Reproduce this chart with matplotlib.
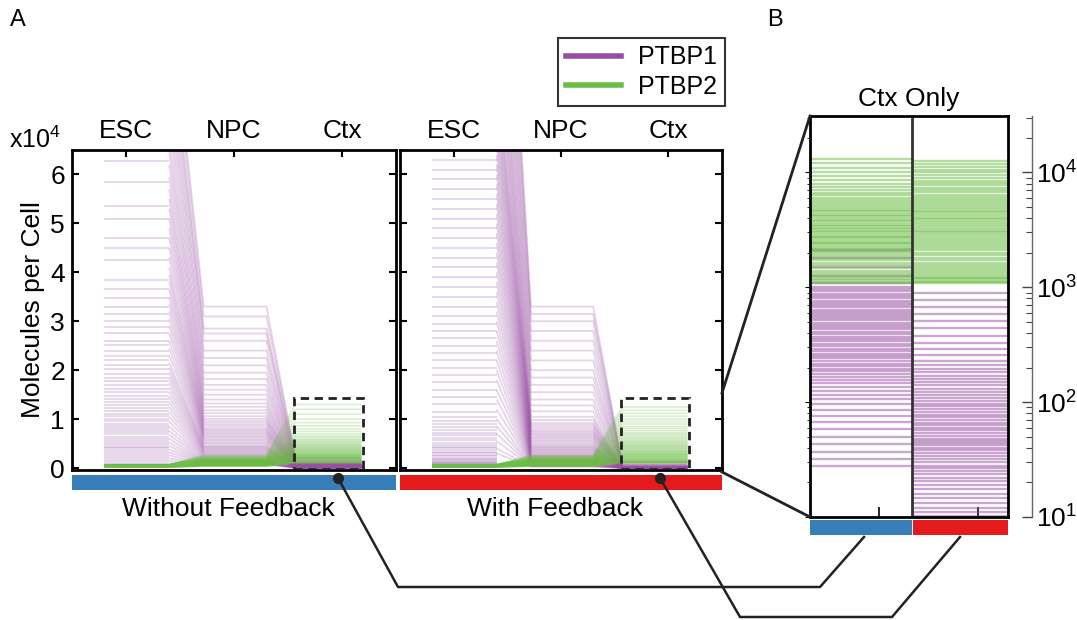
import matplotlib
matplotlib.use('Agg')
import matplotlib.pyplot as plt
from matplotlib.collections import LineCollection
from matplotlib.patches import Rectangle
from matplotlib.lines import Line2D

plt.rcParams['font.family'] = ['Liberation Sans', 'DejaVu Sans']
plt.rcParams['mathtext.fontset'] = 'custom'
plt.rcParams['mathtext.rm'] = 'Liberation Sans'
plt.rcParams['mathtext.it'] = 'Liberation Sans'

# ---- data (molecules per cell, one entry per simulated cell) ----
stages = ['ESC', 'NPC', 'Ctx']

# without feedback
wo_p1_esc = [62800, 58500, 53500, 51000, 47000, 45000, 42500, 38500, 36500, 34800,
             33000, 31500, 30000, 28800, 27500, 26000, 25200, 24000, 23000, 22100,
             21000, 20200, 19300, 18500, 17800, 17000, 16200, 15500, 14800, 14100,
             13500, 12900, 12300, 11700, 11100, 10600, 10100, 9600, 9100, 8600,
             8200, 7700, 7300, 6900, 6400, 6000, 5600, 5200, 4800, 4400,
             4000, 3600, 3200, 2800, 2400, 2000, 1600, 1200, 900, 600]
wo_p1_peak = [98000, 95000, 91000, 88000, 85000, 82000, 79000, 76000, 73000, 70000,
              67000, 64500, 62000, 59500, 57000, 55000, 53000, 51000, 49000, 47000,
              45000, 43000, 41000, 39500, 38000, 36500, 35000, 33500, 32000, 30500,
              29000, 27500, 26000, 24500, 23000, 21500, 20500, 19500, 18500, 17500,
              16500, 15500, 14500, 13500, 12500, 11500, 10500, 9500, 8500, 7600,
              6800, 6000, 5200, 4500, 3800, 3200, 2600, 2000, 1500, 1000]
wo_p1_npc = [33000, 31000, 28500, 27500, 26000, 24000, 22500, 21000, 19500, 18200,
             17000, 16000, 15000, 14000, 13200, 12500, 11800, 11200, 10600, 10100,
             9700, 9300, 8900, 8500, 8100, 7800, 7500, 7200, 6900, 6600,
             6300, 6000, 5700, 5400, 5100, 4800, 4500, 4300, 4100, 3900,
             3700, 3500, 3300, 3100, 2900, 2700, 2500, 2300, 2100, 1900,
             1700, 1500, 1400, 1300, 1200, 1100, 1000, 900, 800, 700]
wo_p1_ctx = [2100, 1800, 1500, 1250, 1100, 1000, 960, 920, 880, 840,
             800, 765, 730, 700, 670, 640, 615, 590, 565, 540,
             515, 490, 470, 450, 430, 410, 390, 372, 355, 338,
             322, 306, 292, 278, 265, 252, 240, 228, 217, 206,
             196, 186, 176, 166, 156, 146, 136, 126, 116, 106,
             96, 86, 76, 67, 58, 50, 43, 37, 32, 28]
wo_p2_ctx = [13000, 12000, 11000, 10000, 9300, 8600, 8000, 7500, 7000, 6600,
             6300, 6000, 5750, 5500, 5300, 5100, 4900, 4750, 4600, 4450,
             4300, 4150, 4000, 3880, 3760, 3640, 3520, 3400, 3300, 3200,
             3100, 3000, 2900, 2820, 2740, 2660, 2580, 2500, 2430, 2360,
             2290, 2220, 2150, 2080, 2010, 1940, 1870, 1800, 1720, 1640,
             1560, 1480, 1400, 1330, 1270, 1220, 1180, 1150, 1120, 1100]

# with feedback
wf_p1_esc = [63000, 61000, 59000, 57000, 55000, 53000, 51000, 49000, 47000, 45000,
             43000, 41000, 39000, 37000, 35000, 33000, 31000, 29500, 28000, 26500,
             25000, 23500, 22000, 20500, 19000, 17500, 16000, 14500, 13000, 11500,
             10500, 9700, 9000, 8400, 7800, 7200, 6700, 6200, 5700, 5200,
             4800, 4400, 4000, 3600, 3300, 3000, 2700, 2400, 2100, 1900,
             1700, 1500, 1300, 1100, 950, 800, 650, 500, 400, 300]
wf_p1_peak = [150000, 145000, 140000, 135000, 130000, 126000, 122000, 118000, 114000, 110000,
              106000, 103000, 100000, 97000, 94000, 91000, 88000, 85000, 82000, 80000,
              78000, 76000, 74000, 72000, 70000, 68000, 66000, 64000, 62000, 60000,
              58000, 56000, 54000, 52000, 50000, 48000, 46000, 44000, 42000, 40000,
              38000, 36000, 34000, 32000, 30000, 28000, 26000, 24000, 22000, 20000,
              18000, 16000, 14000, 12000, 10000, 8500, 7000, 5500, 4000, 3000]
wf_p1_npc = [33000, 31500, 30000, 28000, 26000, 24000, 22000, 20000, 18500, 17000,
             15500, 14000, 12800, 11600, 10500, 9800, 9200, 8800, 8400, 8000,
             7600, 7300, 7000, 6700, 6400, 6100, 5800, 5500, 5200, 4900,
             4600, 4400, 4200, 4000, 3800, 3600, 3400, 3200, 3000, 2800,
             2600, 2450, 2300, 2150, 2000, 1850, 1700, 1550, 1400, 1250,
             1100, 1000, 900, 800, 700, 600, 500, 420, 350, 280]
wf_p1_ctx = [900, 780, 680, 590, 510, 440, 380, 330, 290, 255,
             230, 212, 196, 182, 170, 159, 149, 140, 131, 123,
             116, 109, 103, 97, 92, 87, 82, 78, 74, 70,
             66, 63, 60, 57, 54, 51, 48, 46, 44, 42,
             40, 38, 36, 34, 32, 30, 28, 26.5, 25, 23.5,
             22, 20.5, 19, 17.5, 16, 14.5, 13.2, 12, 11, 10.3]
wf_p2_ctx = [12500, 11800, 11200, 10600, 10000, 9500, 9000, 8500, 8100, 7700,
             7300, 7000, 6700, 6400, 6100, 5850, 5600, 5400, 5200, 5000,
             4800, 4650, 4500, 4350, 4200, 4050, 3900, 3750, 3600, 3480,
             3360, 3240, 3120, 3000, 2900, 2800, 2700, 2600, 2500, 2400,
             2300, 2200, 2100, 2000, 1900, 1800, 1720, 1640, 1560, 1500,
             1440, 1380, 1330, 1280, 1240, 1200, 1170, 1140, 1110, 1080]

# PTBP2 before the Ctx stage (same in both models)
p2_esc = [700, 690, 680, 670, 660, 650, 640, 630, 620, 610,
          600, 590, 580, 570, 560, 550, 540, 530, 520, 510,
          500, 495, 490, 485, 480, 475, 470, 465, 460, 455,
          450, 445, 440, 435, 430, 425, 420, 415, 410, 405,
          400, 390, 380, 370, 360, 350, 340, 330, 320, 310,
          300, 290, 280, 270, 260, 250, 240, 230, 220, 210]
p2_npc = [2600, 2450, 2300, 2200, 2100, 2000, 1950, 1900, 1850, 1800,
          1750, 1700, 1660, 1620, 1580, 1540, 1500, 1470, 1440, 1410,
          1380, 1350, 1320, 1290, 1260, 1230, 1200, 1175, 1150, 1125,
          1100, 1075, 1050, 1025, 1000, 975, 950, 925, 900, 875,
          850, 825, 800, 775, 750, 725, 700, 675, 650, 625,
          600, 575, 550, 525, 500, 475, 450, 425, 400, 375]

PURPLE = '#984EA3'
GREEN = '#6CBD45'
BLUE = '#377EB8'
RED = '#E41A1C'
LINE = '#222222'
FS = 19

W, H = 1077, 620
fig = plt.figure(figsize=(W / 100, H / 100), dpi=100)


def box(x0, y0, x1, y1):
    return [x0 / W, 1 - y1 / H, (x1 - x0) / W, (y1 - y0) / H]


def fx(x):
    return x / W


def fy(y):
    return 1 - y / H


def cell_segments(esc, npc, ctx, peak=None):
    segs = []
    for i in range(len(esc)):
        if peak is None:
            segs.append([(0.8, esc[i]), (1.4, esc[i]), (1.72, npc[i]),
                         (2.3, npc[i]), (2.57, ctx[i]), (3.18, ctx[i])])
        else:
            segs.append([(0.8, esc[i]), (1.4, esc[i])])
            segs.append([(1.4, peak[i]), (1.72, npc[i]), (2.3, npc[i]),
                         (2.57, ctx[i]), (3.18, ctx[i])])
    return segs


def stage_panel(ax, p1_esc, p1_peak, p1_npc, p1_ctx, p2_ctx, labels):
    ax.add_collection(LineCollection(cell_segments(p1_esc, p1_npc, p1_ctx, p1_peak),
                                     colors=PURPLE, alpha=0.24, linewidths=1.3))
    ax.add_collection(LineCollection(cell_segments(p2_esc, p2_npc, p2_ctx),
                                     colors=GREEN, alpha=0.25, linewidths=1.2))
    ax.add_patch(Rectangle((2.56, -150), 0.63, 14450, fill=False, ec=LINE,
                           ls=(0, (3, 2)), lw=2, zorder=5))
    ax.set_xlim(0.5, 3.5)
    ax.set_ylim(-400, 65000)
    ax.xaxis.tick_top()
    ax.set_xticks([1, 2, 3])
    ax.set_xticklabels(stages)
    ax.set_yticks([0, 10000, 20000, 30000, 40000, 50000, 60000])
    ax.set_yticklabels(['0', '1', '2', '3', '4', '5', '6'])
    ax.tick_params(axis='x', direction='in', length=5, width=1.5, labelsize=FS, pad=5)
    ax.tick_params(axis='y', direction='in', length=5, width=1.5, labelsize=FS,
                   left=True, right=True, labelleft=labels, pad=5)
    for s in ax.spines.values():
        s.set_linewidth(2)


ax1 = fig.add_axes(box(72, 150, 396, 470))
ax2 = fig.add_axes(box(400, 150, 722, 470))
stage_panel(ax1, wo_p1_esc, wo_p1_peak, wo_p1_npc, wo_p1_ctx, wo_p2_ctx, True)
stage_panel(ax2, wf_p1_esc, wf_p1_peak, wf_p1_npc, wf_p1_ctx, wf_p2_ctx, False)
ax1.set_ylabel('Molecules per Cell', fontsize=FS, labelpad=4)

# ---- panel B: Ctx only, log scale ----
axB = fig.add_axes(box(810, 116, 1008, 517))
axB.set_yscale('log')
axB.set_ylim(10, 31000)
axB.set_xlim(0.3, 2.3)
axB.hlines(wo_p1_ctx, 0.3, 1.33, colors=PURPLE, alpha=0.5, lw=1.7)
axB.hlines(wo_p2_ctx, 0.3, 1.33, colors=GREEN, alpha=0.5, lw=1.7)
axB.hlines(wf_p1_ctx, 1.33, 2.3, colors=PURPLE, alpha=0.5, lw=1.7)
axB.hlines(wf_p2_ctx, 1.33, 2.3, colors=GREEN, alpha=0.5, lw=1.7)
axB.axvline(1.33, color='#333333', lw=2)
axB.set_xticks([1, 2])
axB.set_xticklabels([])
axB.tick_params(axis='x', direction='in', length=7, width=1.2)
axB.tick_params(axis='y', which='both', left=False, labelleft=False)
for s in axB.spines.values():
    s.set_linewidth(2)
axB.set_title('Ctx Only', fontsize=FS, pad=7)

axL = axB.twinx()
axL.set_yscale('log')
axL.set_ylim(10, 31000)
for side in ['left', 'top', 'bottom']:
    axL.spines[side].set_visible(False)
axL.spines['right'].set_position(('outward', 17))
axL.spines['right'].set_color('#666666')
axL.spines['right'].set_linewidth(1)
axL.tick_params(axis='y', which='major', direction='in', length=7, width=1,
                color='#444444', labelsize=FS, pad=3)
axL.tick_params(axis='y', which='minor', direction='in', length=4, width=0.8,
                color='#444444')

# ---- colour bars and labels ----
for (x0, y0, x1, y1), c in [((72, 475, 396, 490), BLUE), ((400, 475, 722, 490), RED),
                            ((810, 520, 912, 535), BLUE), ((913, 520, 1008, 535), RED)]:
    fig.add_artist(Rectangle((fx(x0), fy(y1)), (x1 - x0) / W, (y1 - y0) / H,
                             transform=fig.transFigure, color=c, lw=0))

fig.text(fx(228), fy(509), 'Without Feedback', ha='center', va='center', fontsize=FS)
fig.text(fx(555), fy(509), 'With Feedback', ha='center', va='center', fontsize=FS)
fig.text(fx(9), fy(140), r'x10$^4$', ha='left', va='center', fontsize=18)
fig.text(fx(18), fy(20), 'A', ha='center', va='center', fontsize=17)
fig.text(fx(775), fy(20), 'B', ha='center', va='center', fontsize=17)

# ---- connector lines ----
def fig_line(xs, ys, **kw):
    fig.add_artist(Line2D([fx(x) for x in xs], [fy(y) for y in ys],
                          transform=fig.transFigure, color=LINE, **kw))

fig_line([722, 810], [393, 116], lw=2)
fig_line([722, 810], [472, 517], lw=2)
fig_line([338, 398, 820, 864], [478, 587, 587, 537], lw=1.8)
fig_line([660, 740, 892, 960], [478, 617, 617, 537], lw=1.8)
fig_line([338], [478], marker='o', ms=7, lw=0)
fig_line([660], [478], marker='o', ms=7, lw=0)

# ---- legend ----
handles = [Line2D([0], [0], color=PURPLE, lw=4), Line2D([0], [0], color=GREEN, lw=4)]
leg = fig.legend(handles, ['PTBP1', 'PTBP2'], loc='upper left',
                 bbox_to_anchor=(fx(558), fy(38)), fontsize=18, frameon=True,
                 fancybox=False, edgecolor='black', handlelength=2.2,
                 borderpad=0.3, labelspacing=0.2, handletextpad=0.7,
                 borderaxespad=0)
leg.get_frame().set_linewidth(1.5)

fig.savefig('out.png', dpi=100)
